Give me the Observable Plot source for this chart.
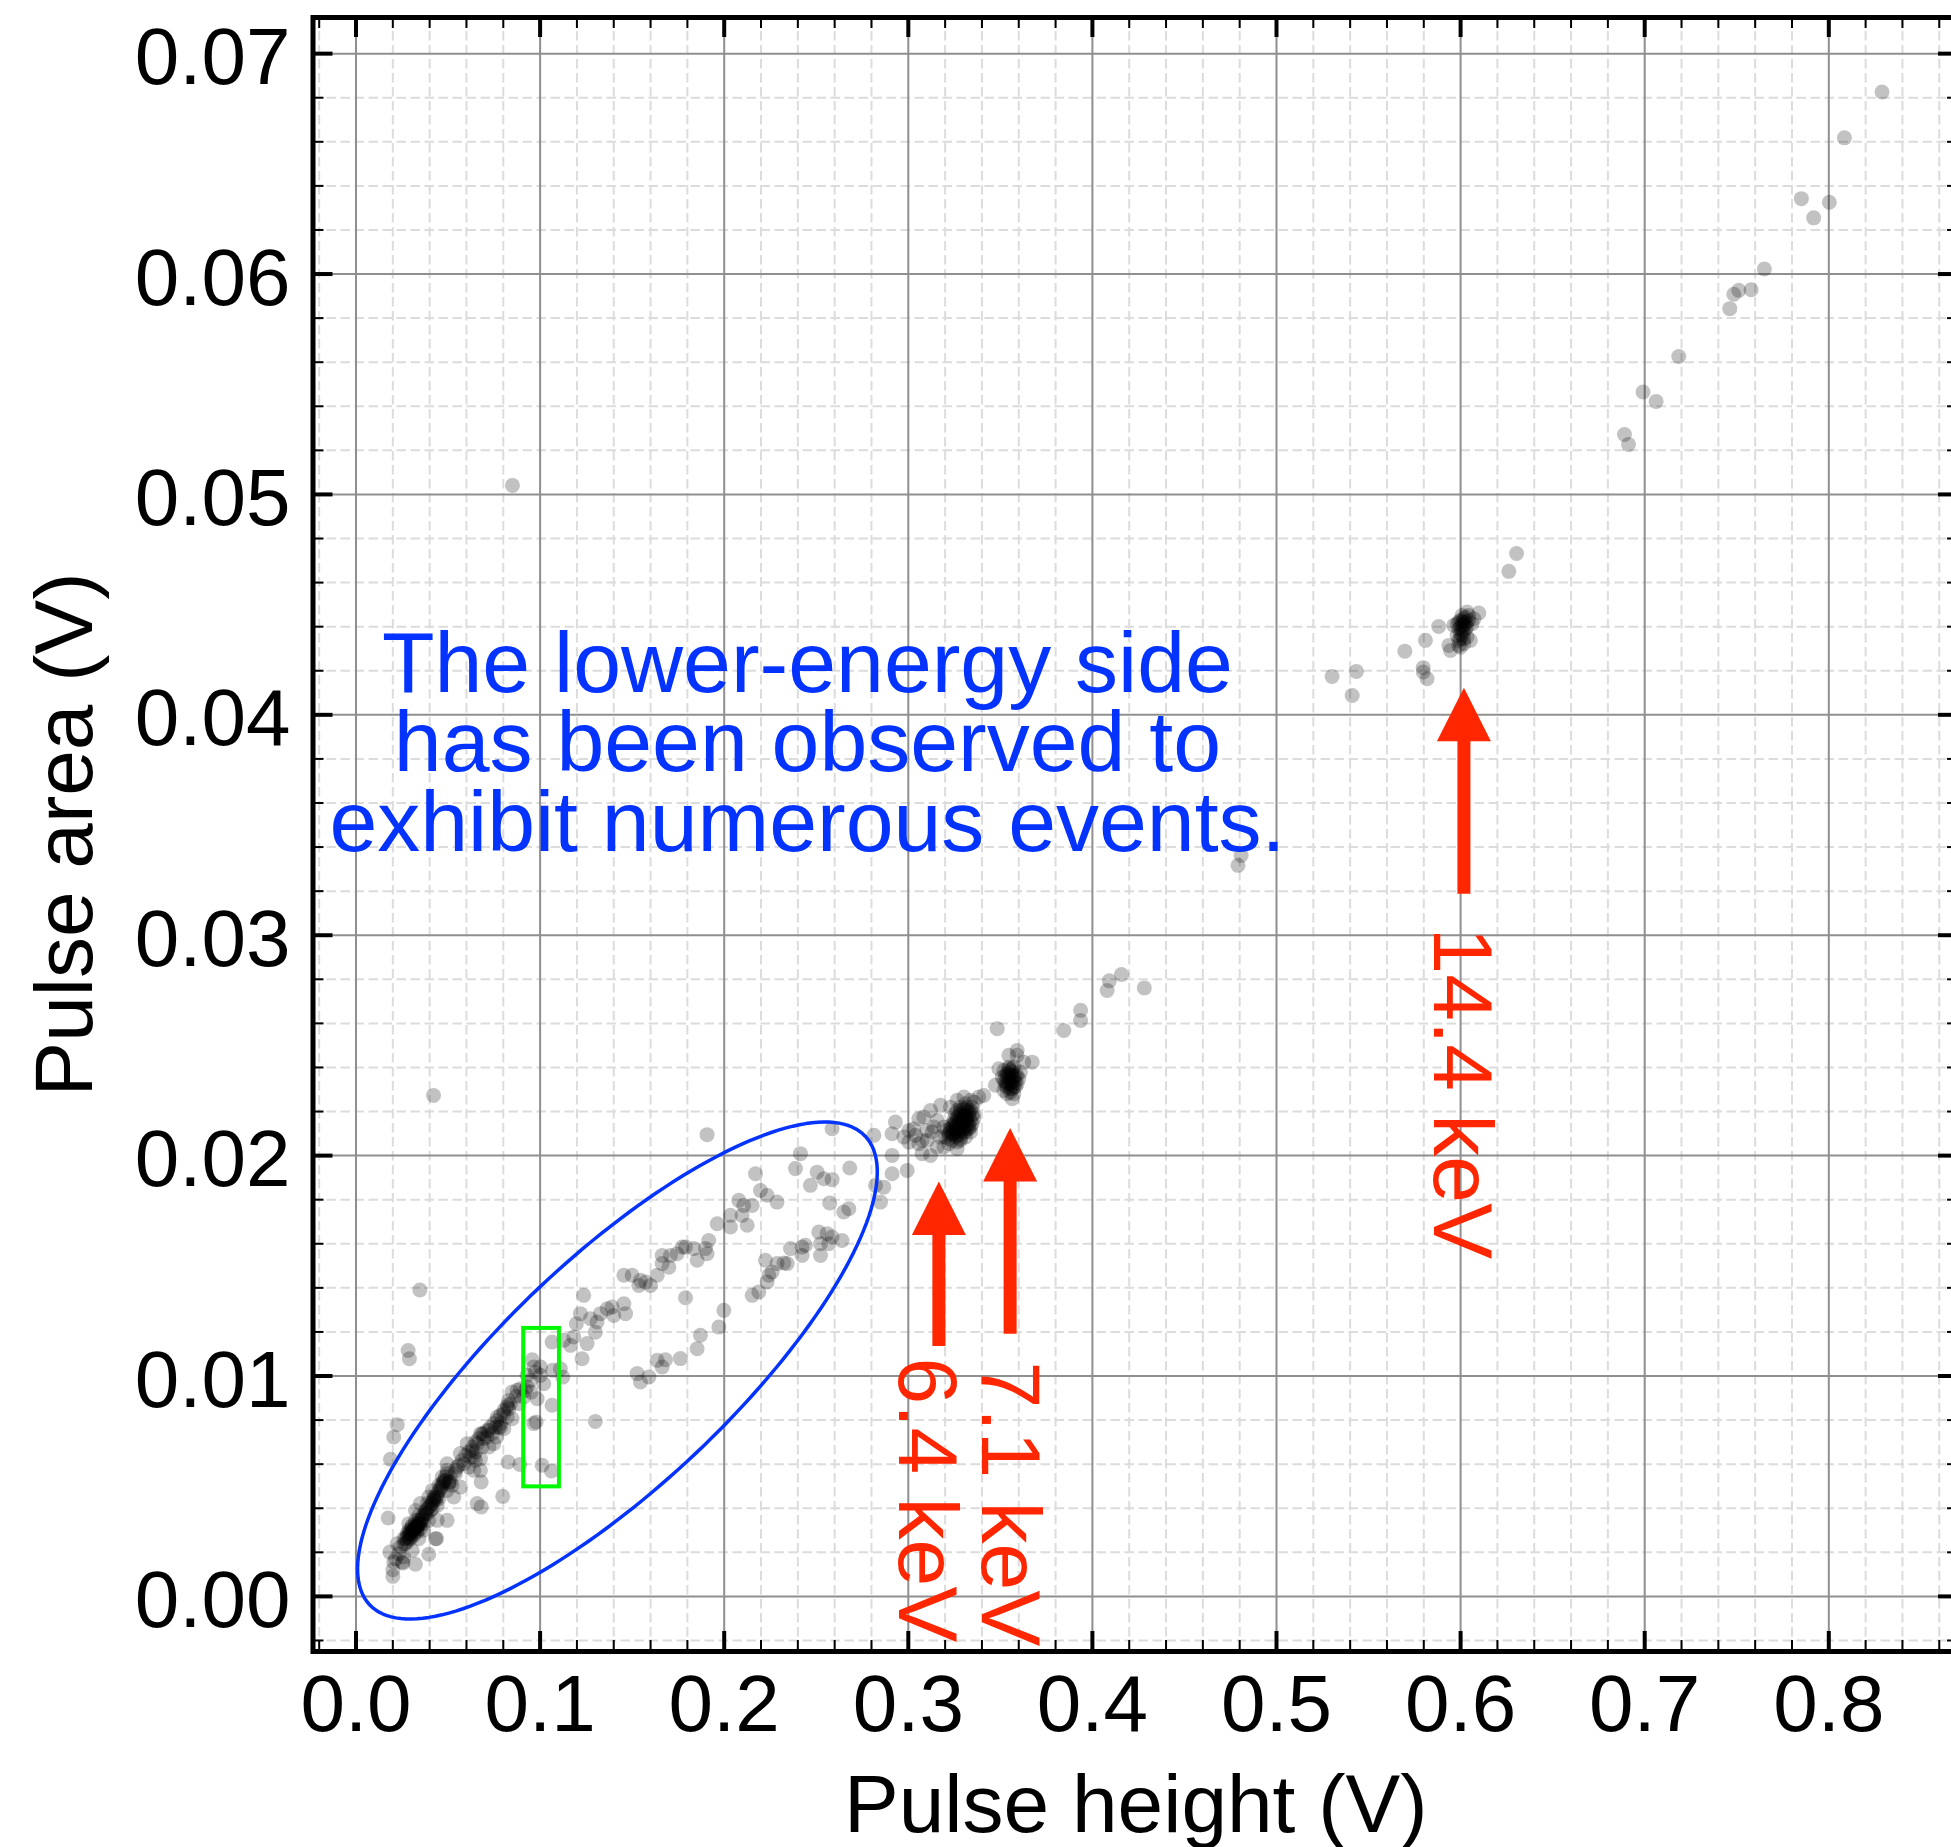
<!DOCTYPE html>
<html>
<head>
<meta charset="utf-8">
<script src="https://cdn.jsdelivr.net/npm/d3@7"></script>
<script src="https://cdn.jsdelivr.net/npm/@observablehq/plot@0.6"></script>
<style>
  html, body { margin: 0; padding: 0; background: #fff; overflow: hidden; }
  #chart svg { display: block; max-width: none !important; width: 1960px; height: 1847px; }
</style>
</head>
<body>
<div id="chart"></div>
<script>
// ---------- axis ticks ----------
const xMajorTicks = [0.0, 0.1, 0.2, 0.3, 0.4, 0.5, 0.6, 0.7, 0.8];
const yMajorTicks = [0.00, 0.01, 0.02, 0.03, 0.04, 0.05, 0.06, 0.07];
const xMinorTicks = d3.range(-1, 44).filter(i => i % 5 !== 0).map(i => i * 0.02);
const yMinorTicks = d3.range(-1, 36).filter(i => i % 5 !== 0).map(i => i * 0.002);
const xDomain = [-0.02336, 0.87045];
const yDomain = [-0.0025, 0.07164];
const xLabel = "Pulse height (V)";
const yLabel = "Pulse area (V)";

// ---------- scatter data: [pulse height (V), pulse area (V)] ----------
const lowBand = [
  [0.0848,0.00927],[0.0871,0.00908],[0.0821,0.00867],[0.0830,0.00852],[0.0803,0.00829],[0.0848,0.00806],
  [0.0767,0.00814],[0.0785,0.00768],[0.0758,0.00768],[0.0740,0.00738],[0.0763,0.00723],[0.0722,0.00753],
  [0.0676,0.00738],[0.0694,0.00716],[0.0658,0.00693],[0.0685,0.00678],[0.0631,0.00663],[0.0604,0.00693],
  [0.0622,0.00632],[0.0649,0.00617],[0.0676,0.00625],[0.0722,0.00678],[0.0567,0.00648],[0.0586,0.00602],
  [0.0613,0.00587],[0.0549,0.00587],[0.0540,0.00557],[0.0513,0.00542],[0.0495,0.00572],[0.0477,0.00519],
  [0.0522,0.00504],[0.0495,0.00481],[0.0459,0.00481],[0.0468,0.00542],[0.0504,0.00519],[0.0441,0.00451],
  [0.0423,0.00436],[0.0441,0.00413],[0.0414,0.00398],[0.0387,0.00421],[0.0378,0.00390],[0.0359,0.00360],
  [0.0395,0.00345],[0.0368,0.00330],[0.0341,0.00345],[0.0323,0.00330],[0.0305,0.00315],[0.0332,0.00300],
  [0.0296,0.00300],[0.0278,0.00285],[0.0314,0.00285],[0.0287,0.00262],[0.0269,0.00239],[0.0260,0.00262],
  [0.0242,0.00224],[0.0341,0.00262],[0.0368,0.00300],[0.0441,0.00345],[0.0432,0.00262],[0.0224,0.00239],
  [0.0233,0.00194],[0.0260,0.00179],[0.0305,0.00209],[0.0287,0.00330],[0.0323,0.00390],[0.0350,0.00421],
  [0.0395,0.00451],[0.0414,0.00481],[0.0450,0.00504],[0.0495,0.00602],[0.0531,0.00451],[0.0567,0.00496],
  [0.0640,0.00572],[0.0676,0.00572],[0.0649,0.00655],[0.0712,0.00723],[0.0748,0.00693],[0.0785,0.00784],
  [0.0803,0.00761],[0.0830,0.00889],[0.0875,0.00935],[0.0893,0.00942],[0.0920,0.00935],[0.0929,0.00950],
  [0.0948,0.00980],[0.0929,0.01003],[0.0966,0.01041],[0.1002,0.01041],[0.0884,0.00874],[0.0911,0.00905],
  [0.0821,0.00814],[0.0215,0.00171],[0.0251,0.00156],[0.0205,0.00156],
  [0.0332,0.00322],[0.0332,0.00322],[0.0323,0.00315],[0.0350,0.00330],[0.0432,0.00436],[0.0450,0.00443],
  [0.0504,0.00511],[0.0513,0.00519],[0.0640,0.00632],[0.0685,0.00738],[0.0776,0.00768],[0.0296,0.00269],
  [0.0314,0.00307],[0.0387,0.00375],[0.0405,0.00390],[0.0287,0.00285],[0.0305,0.00300],[0.0341,0.00330],
  [0.0359,0.00345],[0.0378,0.00375],[0.0414,0.00421],[0.0423,0.00451],[0.0468,0.00496],[0.0486,0.00526]
];
const lowCore = [
  [0.0269,0.00262],[0.0278,0.00270],[0.0287,0.00277],[0.0296,0.00285],[0.0305,0.00292],[0.0314,0.00300],
  [0.0323,0.00307],[0.0332,0.00315],[0.0341,0.00322],[0.0350,0.00337],[0.0359,0.00352],[0.0368,0.00367],
  [0.0378,0.00382],[0.0387,0.00398],[0.0396,0.00405],[0.0405,0.00413],[0.0414,0.00428],[0.0423,0.00443],
  [0.0432,0.00451],[0.0441,0.00466],[0.0450,0.00481],[0.0459,0.00496],[0.0468,0.00511],[0.0477,0.00526],
  [0.0486,0.00542],[0.0495,0.00557],[0.0260,0.00239],[0.0278,0.00247],[0.0296,0.00262],[0.0314,0.00277],
  [0.0332,0.00292],[0.0350,0.00307],[0.0287,0.00300],[0.0305,0.00322],[0.0323,0.00345],[0.0341,0.00367],
  [0.0540,0.00572],[0.0558,0.00595],[0.0576,0.00617],[0.0595,0.00640],[0.0613,0.00655],[0.0631,0.00678],
  [0.0649,0.00701],[0.0667,0.00716],[0.0694,0.00738],[0.0712,0.00753],[0.0730,0.00768],[0.0749,0.00784],
  [0.0767,0.00799],[0.0785,0.00822],[0.0803,0.00844],[0.0821,0.00859],[0.0839,0.00874]
];
const lowScatter = [
  [0.0347,0.01390],[0.0283,0.01116],[0.0290,0.01078],[0.0224,0.00779],[0.0205,0.00723],[0.0187,0.00622],
  [0.0175,0.00356],[0.0184,0.00201],[0.0200,0.00121],[0.0200,0.00091],[0.0256,0.00152],[0.0323,0.00146],
  [0.0395,0.00191],[0.0437,0.00262],[0.0495,0.00345],[0.0658,0.00421],[0.0680,0.00406],[0.0680,0.00519],
  [0.0797,0.00454],[0.0826,0.00610],[0.0890,0.00599],[0.1011,0.00595],[0.1062,0.00569],[0.0966,0.00784],
  [0.0978,0.00791],[0.1300,0.00794],[0.1065,0.00867],[0.0984,0.00897],[0.0951,0.00927],[0.1002,0.01003],
  [0.0975,0.01018],[0.1020,0.00965],[0.0957,0.01074],[0.1069,0.01026],[0.1123,0.00995],[0.1110,0.01033],
  [0.1065,0.01154],[0.1129,0.01162],[0.1165,0.01139],[0.1183,0.01177],[0.1228,0.01078],[0.1255,0.01147],
  [0.1197,0.01237],[0.1219,0.01283],[0.1237,0.01366],[0.1273,0.01260],[0.1300,0.01199],[0.1309,0.01245],
  [0.1328,0.01283],[0.1364,0.01305],[0.1391,0.01313],[0.1400,0.01275]
];
const midBand = [
  [0.1907,0.02095],[0.2586,0.02122],[0.2414,0.02009],[0.2387,0.01941],[0.2170,0.01918],[0.2505,0.01925],
  [0.2541,0.01895],[0.2586,0.01891],[0.2468,0.01865],[0.2682,0.01944],[0.2197,0.01842],[0.2233,0.01820],
  [0.2287,0.01789],[0.2079,0.01797],[0.2106,0.01774],[0.2152,0.01774],[0.2097,0.01729],[0.2125,0.01684],
  [0.2034,0.01729],[0.1962,0.01691],[0.2034,0.01676],[0.2573,0.01785],[0.2649,0.01744],[0.2677,0.01759],
  [0.1916,0.01615],[0.1898,0.01578],[0.1907,0.01555],[0.1835,0.01578],[0.1853,0.01525],[0.1790,0.01585],
  [0.1772,0.01585],[0.1744,0.01555],[0.1708,0.01547],[0.1663,0.01547],[0.1663,0.01510],[0.1699,0.01494],
  [0.1636,0.01457],[0.1573,0.01426],[0.1545,0.01434],[0.1536,0.01411],[0.1600,0.01411],[0.1500,0.01457],
  [0.1455,0.01457],[0.1455,0.01328],[0.1464,0.01283],[0.1790,0.01355],[0.1998,0.01298],[0.1971,0.01222],
  [0.1871,0.01185],[0.1853,0.01124],[0.1762,0.01079],[0.1681,0.01074],[0.1636,0.01071],[0.1663,0.01041],
  [0.1591,0.00996],[0.1545,0.00973],[0.1527,0.01011],[0.2224,0.01525],[0.2287,0.01510],[0.2324,0.01513],
  [0.2342,0.01510],[0.2360,0.01578],[0.2423,0.01585],[0.2441,0.01593],[0.2423,0.01547],[0.2523,0.01547],
  [0.2514,0.01653],[0.2559,0.01646],[0.2586,0.01631],[0.2640,0.01615],[0.2523,0.01600],[0.2568,0.01600],
  [0.2260,0.01472],[0.2242,0.01457],[0.2233,0.01426],[0.2188,0.01381],[0.2152,0.01366]
];
const peak64 = [
  [0.3220,0.02077],[0.3238,0.02092],[0.3256,0.02107],[0.3274,0.02122],[0.3292,0.02137],[0.3311,0.02160],
  [0.3329,0.02183],[0.3338,0.02205],[0.3320,0.02220],[0.3302,0.02205],[0.3283,0.02190],[0.3265,0.02175],
  [0.3247,0.02160],[0.3229,0.02137],[0.3211,0.02114],[0.3229,0.02107],[0.3256,0.02084],[0.3283,0.02092],
  [0.3302,0.02107],[0.3320,0.02122],[0.3347,0.02145],[0.3356,0.02168],[0.3283,0.02069],[0.3265,0.02062],
  [0.3238,0.02069],[0.3311,0.02084],[0.3274,0.02152],[0.3292,0.02168],[0.3256,0.02137],[0.3302,0.02183],
  [0.3320,0.02175],[0.3265,0.02205],[0.3283,0.02220],[0.3311,0.02235],[0.3347,0.02220],[0.3329,0.02137],
  [0.3283,0.02122],[0.3247,0.02122],[0.3220,0.02099],[0.3202,0.02084],[0.3338,0.02107],[0.3356,0.02190],
  [0.3247,0.02099],[0.3265,0.02114],[0.3283,0.02137],[0.3302,0.02152],[0.3320,0.02160],[0.3329,0.02198],
  [0.3311,0.02198],[0.3292,0.02183],[0.3274,0.02168],[0.3256,0.02152],[0.3238,0.02130],[0.3229,0.02122],
  [0.3265,0.02092],[0.3292,0.02114],[0.3311,0.02130],[0.3338,0.02160],[0.3347,0.02183],[0.3320,0.02205],
  [0.3283,0.02205],[0.3256,0.02190],[0.3274,0.02099],[0.3302,0.02122],[0.3320,0.02145],[0.3292,0.02145],
  [0.3265,0.02137],[0.3247,0.02145],[0.3238,0.02099],[0.3283,0.02160],[0.3311,0.02175],[0.3329,0.02122],
  [0.3256,0.02122],[0.3274,0.02183],[0.3302,0.02213],[0.3338,0.02130],[0.3311,0.02107],[0.3283,0.02077],
  [0.2930,0.02152],[0.2912,0.02099],[0.2976,0.02084],[0.3003,0.02061],[0.3030,0.02122],[0.3057,0.02167],
  [0.3084,0.02175],[0.3121,0.02205],[0.3175,0.02228],[0.3130,0.02107],[0.3075,0.02069],[0.3075,0.02009],
  [0.3121,0.02001],[0.3157,0.02039],[0.3193,0.02039],[0.3265,0.02031],[0.3220,0.02054],[0.3003,0.02114],
  [0.3039,0.02092],[0.3102,0.02114],[0.3157,0.02160],[0.3139,0.02130],[0.3193,0.02130],[0.3229,0.02220],
  [0.3265,0.02251],[0.3302,0.02266],[0.3338,0.02251],[0.3356,0.02243],[0.3410,0.02273],[0.3383,0.02266],
  [0.3102,0.02069],[0.3057,0.02054],[0.3175,0.02084],
  [0.2813,0.02092],[0.2912,0.02001],[0.2912,0.01918],[0.2994,0.01933],[0.2867,0.01857],[0.2822,0.01865],
  [0.2849,0.01789]
];
const peak71 = [
  [0.3546,0.02455],[0.3591,0.02477],[0.3591,0.02455],[0.3627,0.02424],[0.3673,0.02424],[0.3492,0.02394],
  [0.3473,0.02319],[0.3519,0.02296],[0.3564,0.02258],[0.3573,0.02281],[0.3609,0.02379],
  [0.3519,0.02387],[0.3537,0.02372],[0.3564,0.02379],[0.3582,0.02364],[0.3546,0.02349],[0.3573,0.02341],
  [0.3528,0.02334],[0.3555,0.02326],[0.3591,0.02326],[0.3537,0.02311],[0.3564,0.02303],[0.3546,0.02402],
  [0.3573,0.02402],[0.3510,0.02356],[0.3600,0.02349],[0.3555,0.02288],[0.3537,0.02281],[0.3582,0.02311],
  [0.3555,0.02364],[0.3564,0.02334],
  [0.3537,0.02356],[0.3555,0.02341],[0.3573,0.02356],[0.3546,0.02372],[0.3564,0.02364],[0.3546,0.02326],
  [0.3564,0.02318],[0.3528,0.02364],[0.3582,0.02334],[0.3555,0.02387],[0.3537,0.02326],[0.3573,0.02311],
  [0.3555,0.02303],[0.3546,0.02394],[0.3564,0.02394],[0.3528,0.02318],[0.3591,0.02364],[0.3519,0.02341]
];
const upperTail = [
  [0.3483,0.02576],[0.3845,0.02568],[0.3936,0.02659],[0.3936,0.02613],[0.4080,0.02749],[0.4092,0.02793],
  [0.4158,0.02822],[0.4282,0.02761],[0.4791,0.03317],[0.4808,0.03362]
];
const peak144 = [
  [0.5302,0.04174],[0.5434,0.04197],[0.5411,0.04088],[0.5697,0.04289],[0.5809,0.04338],[0.5881,0.04401],
  [0.5797,0.04214],[0.5797,0.04194],[0.5818,0.04164],[0.5945,0.04292],[0.5936,0.04315],
  [0.6099,0.04462],[0.6035,0.04466],[0.6072,0.04436],[0.5963,0.04406],[0.5981,0.04360],[0.5990,0.04315],
  [0.6053,0.04338],[0.6017,0.04323],[0.5999,0.04428],[0.6026,0.04444],[0.6008,0.04406],[0.6035,0.04398],
  [0.5990,0.04391],[0.6017,0.04376],[0.5999,0.04345],[0.6035,0.04353],[0.6062,0.04413],[0.5981,0.04413],
  [0.6017,0.04421],[0.6008,0.04451],[0.6044,0.04428],[0.5999,0.04307],
  [0.6008,0.04421],[0.6017,0.04406],[0.5999,0.04398],[0.6026,0.04413],[0.6008,0.04383],[0.6017,0.04436],
  [0.5990,0.04421],[0.6035,0.04421],[0.6008,0.04360],[0.5999,0.04368],[0.6026,0.04391],[0.6017,0.04345],
  [0.5990,0.04338],[0.6044,0.04451]
];
const highTail = [
  [0.6262,0.04651],[0.6304,0.04732],[0.6890,0.05272],[0.6912,0.05227],[0.6991,0.05465],[0.7062,0.05422],
  [0.7185,0.05626],[0.7462,0.05843],[0.7484,0.05908],[0.7511,0.05926],[0.7578,0.05929],[0.7650,0.06023],
  [0.7851,0.06342],[0.7918,0.06255],[0.8003,0.06326],[0.8085,0.06618],[0.8289,0.06826]
];
const outliers = [[0.0850,0.05041],[0.0421,0.02273]];

// ---------- annotations ----------
const noteText = "The lower-energy side\nhas been observed to\nexhibit numerous events.";
const notePos = {x: 0.2452, y: 0.03383};
const ellipseCenter = [0.1420, 0.01025];
const ellipseAxisA = [0.1346, 0.01063];
const ellipseAxisB = [0.0425, -0.00376];
const boxExtent = {x1: 0.0911, x2: 0.1105, y1: 0.00497, y2: 0.01216};
const peakLabels = ["6.4 keV", "7.1 keV", "14.4 keV"];
const arrowX = [0.3166, 0.3553, 0.6018];
const arrowTip = [0.01883, 0.02125, 0.04123];
const arrowTail = [0.01134, 0.01189, 0.03186];
const labelX = [0.2947, 0.3398, 0.5857];
const labelY = [0.01084, 0.01066, 0.03035];

// ---------- layout / style ----------
const W = 1960, H = 1847;
const mL = 312.5, mR = 2, mT = 17, mB = 196;
const innerW = W - mL - mR, innerH = H - mT - mB;
const FONT = "'Liberation Sans', Arial, Helvetica, sans-serif";
const RED = "#FF2600", BLUE = "#0433FF", GREEN = "#00F900";

const points = [...lowBand, ...lowCore, ...lowScatter, ...midBand, ...peak64, ...peak71, ...upperTail, ...peak144, ...highTail, ...outliers]
  .map(([h, a]) => ({h, a}));

const ellipse = d3.range(0, 361, 2).map(deg => {
  const t = deg * Math.PI / 180;
  return {
    x: ellipseCenter[0] + ellipseAxisA[0] * Math.cos(t) + ellipseAxisB[0] * Math.sin(t),
    y: ellipseCenter[1] + ellipseAxisA[1] * Math.cos(t) + ellipseAxisB[1] * Math.sin(t)
  };
});

const arrows = peakLabels.map((label, i) => ({
  label, x: arrowX[i], tip: arrowTip[i], tail: arrowTail[i], lx: labelX[i], ly: labelY[i]
}));

const arrowHead = {
  draw(context) {
    context.moveTo(0, 0);
    context.lineTo(27, 53.5);
    context.lineTo(-27, 53.5);
    context.closePath();
  }
};

const chart = Plot.plot({
  width: W,
  height: H,
  marginLeft: mL, marginRight: mR, marginTop: mT, marginBottom: mB,
  style: {fontFamily: FONT, background: "#fff", color: "#000", overflow: "visible"},
  x: {domain: xDomain, label: null},
  y: {domain: yDomain, label: null},
  marks: [
    // minor dashed grid
    Plot.ruleX(xMinorTicks, {stroke: "#dcdcdc", strokeWidth: 2, strokeDasharray: "9.5,4.5"}),
    Plot.ruleY(yMinorTicks, {stroke: "#dcdcdc", strokeWidth: 2, strokeDasharray: "9.5,4.5"}),
    // major grid
    Plot.ruleX(xMajorTicks, {stroke: "#8f8f8f", strokeWidth: 2}),
    Plot.ruleY(yMajorTicks, {stroke: "#8f8f8f", strokeWidth: 2}),
    // scatter
    Plot.dot(points, {x: "h", y: "a", r: 7.5, fill: "#000", fillOpacity: 0.24}),
    // ellipse and box
    Plot.line(ellipse, {x: "x", y: "y", stroke: BLUE, strokeWidth: 3.5, curve: "linear"}),
    Plot.rect([boxExtent], {x1: "x1", x2: "x2", y1: "y1", y2: "y2", fill: "none", stroke: GREEN, strokeWidth: 4}),
    // note text
    Plot.text([noteText], {x: () => notePos.x, y: () => notePos.y, text: d => d, fill: BLUE, fontSize: 86,
      textAnchor: "middle", lineAnchor: "bottom", lineHeight: 0.924}),
    // arrows (shaft from tip to tail, trimmed under the head)
    Plot.ruleX(arrows, {x: "x", y1: "tip", y2: "tail", insetTop: 40, stroke: RED, strokeWidth: 13}),
    Plot.dot(arrows, {x: "x", y: "tip", symbol: arrowHead, fill: RED, r: 10}),
    Plot.text(arrows, {x: "lx", y: "ly", text: "label", rotate: 90, textAnchor: "start", lineAnchor: "bottom",
      fill: RED, fontSize: 84}),
    // frame
    Plot.frame({stroke: "#000", strokeWidth: 5}),
    // inward ticks on four sides
    Plot.ruleX(xMajorTicks, {insetTop: innerH - 20, stroke: "#000", strokeWidth: 4}),
    Plot.ruleX(xMinorTicks, {insetTop: innerH - 11, stroke: "#000", strokeWidth: 2}),
    Plot.ruleX(xMajorTicks, {insetBottom: innerH - 20, stroke: "#000", strokeWidth: 4}),
    Plot.ruleX(xMinorTicks, {insetBottom: innerH - 11, stroke: "#000", strokeWidth: 2}),
    Plot.ruleY(yMajorTicks, {insetRight: innerW - 20, stroke: "#000", strokeWidth: 4}),
    Plot.ruleY(yMinorTicks, {insetRight: innerW - 11, stroke: "#000", strokeWidth: 2}),
    Plot.ruleY(yMajorTicks, {insetLeft: innerW - 20, stroke: "#000", strokeWidth: 4}),
    Plot.ruleY(yMinorTicks, {insetLeft: innerW - 11, stroke: "#000", strokeWidth: 2}),
    // tick labels
    Plot.axisX(xMajorTicks, {anchor: "bottom", tickSize: 0, tickPadding: 23, fontSize: 80,
      tickFormat: d3.format(".1f"), label: null}),
    Plot.axisY(yMajorTicks, {anchor: "left", tickSize: 0, tickPadding: 22.5, fontSize: 80, dy: 5,
      tickFormat: d3.format(".2f"), label: null}),
    // axis titles
    Plot.text([xLabel], {frameAnchor: "bottom", text: d => d, dy: 180, textAnchor: "middle", lineAnchor: "bottom",
      fontSize: 82, fill: "#000"}),
    Plot.text([yLabel], {frameAnchor: "left", text: d => d, dx: 91 - mL, rotate: -90, textAnchor: "middle",
      lineAnchor: "bottom", fontSize: 82, fill: "#000"})
  ]
});

document.getElementById("chart").appendChild(chart);
</script>
</body>
</html>
